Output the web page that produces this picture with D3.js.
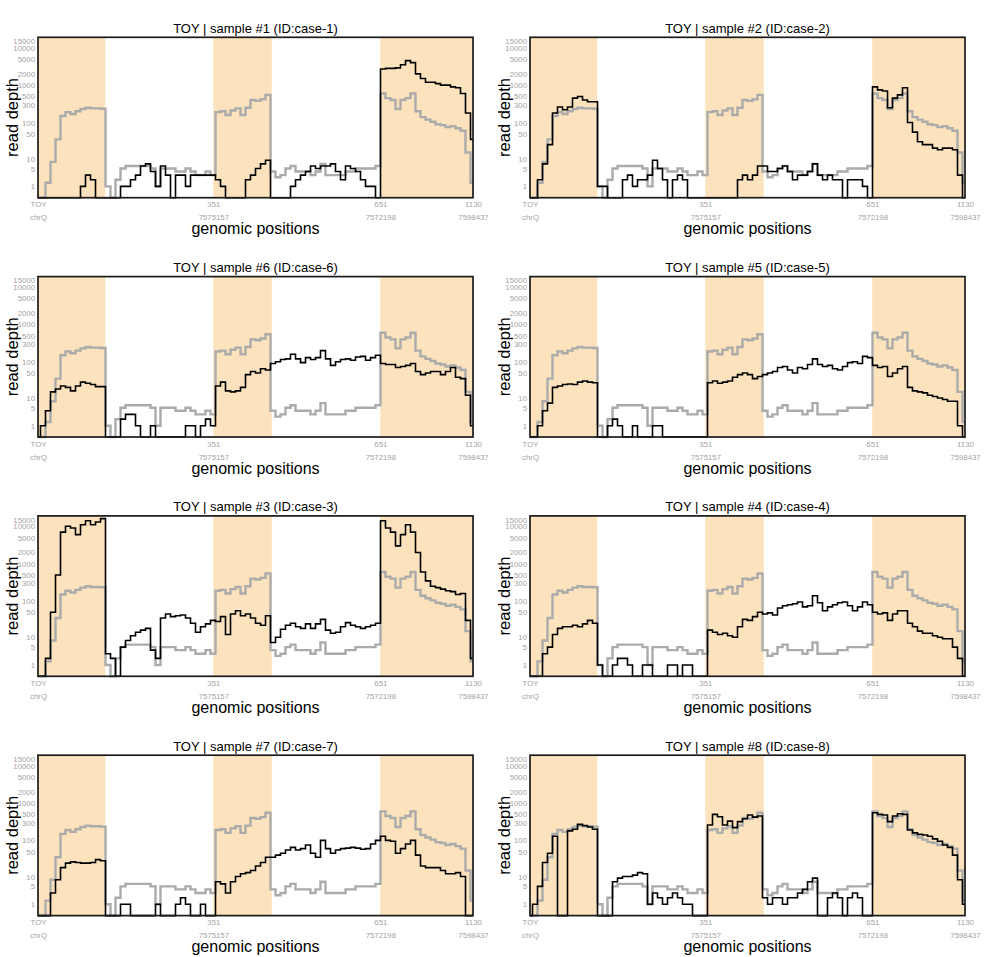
<!DOCTYPE html>
<html><head><meta charset="utf-8">
<script src="https://cdn.jsdelivr.net/npm/d3@7"></script>
<style>body{margin:0;background:#fff}svg{display:block}</style>
</head><body><svg id="chart" width="984" height="957"></svg>
<script>
// reference depth profile (grey), 88 bins across the concatenated regions
const refDepth = [0,0,1.5,8,35,150,190,170,200,230,250,240,240,235,
  1,0,2,5,6,6,6,6,6,5,1,5,5,5,4,4,5,4,3,3,4,3,
  190,200,160,210,240,160,250,400,380,420,550,
  4,2.5,3,5,6,4,4,4,3,4,7,3,3,3,3,4,4,5,5,5,5,6,
  600,450,400,230,400,450,600,200,140,120,105,90,85,75,80,70,60,15,1.5];

const case1 = [0,0,0,0,0,0,0,0,0,1,3,2,0,0,
  0,0,0,1,1,2,3,6,7,4,1,6,3,0,3,3,1,3,3,3,3,3,
  2,1,0,0,0,0,2,3,5,7,9,
  0,0,0,0,1,2,3,4,6,5,6,6,7,4,2,6,5,4,2,1,1,0,
  2700,2800,2800,2900,3500,4500,4000,2000,1500,1200,1200,1100,1000,1000,900,850,600,180,35];

const case2 = [0,0,2,7,25,180,260,220,260,450,500,400,360,360,
  1,1,0,0,0,2,3,1,2,2,3,9,5,2,0,2,3,2,0,0,0,0,
  0,0,0,0,0,0,2,3,2,3,6,
  6,4,4,5,6,4,2,3,3,4,7,3,2,3,2,2,0,2,2,2,1,0,
  900,750,700,250,450,550,850,100,55,30,25,25,20,18,20,20,18,3,0];

const case6 = [0,1,4,15,18,22,20,16,22,28,26,24,21,21,
  0,0,0,2,3,3,1,0,0,1,0,0,0,0,0,0,1,1,0,1,2,1,
  22,28,16,15,16,20,45,55,50,65,60,
  90,100,115,120,160,120,95,130,115,130,200,120,80,100,115,120,110,135,140,110,130,150,
  90,85,85,70,75,80,90,55,45,50,55,55,45,55,70,38,35,12,1];

const case5 = [0,0,1,4,7,20,22,24,25,24,28,30,28,27,
  0,0,1,2,1,0,0,1,0,0,0,1,1,0,0,0,0,0,0,0,0,0,
  27,30,26,28,30,38,45,50,45,35,40,
  45,50,55,70,75,60,50,70,65,85,120,85,75,80,65,60,75,95,100,90,140,130,
  80,70,75,40,50,65,75,20,16,15,14,12,11,10,9,8,8,1,0];

const case3 = [0,0,2,50,500,7000,10000,9000,6000,11000,14000,11000,13000,16000,
  3,2,0,5,8,11,14,16,18,4,2,35,45,38,40,42,35,25,14,20,24,30,
  28,38,12,45,55,40,45,35,25,22,40,
  7,10,17,22,25,20,18,24,18,24,32,16,13,14,20,26,22,20,18,20,22,25,
  14000,9000,7000,3000,6000,11000,7000,2000,600,350,250,230,210,190,180,150,160,30,2];

const case4 = [0,0,0,3,5,12,18,20,20,22,20,24,30,25,
  1,0,0,1,2,2,1,0,0,1,1,0,0,0,1,1,0,1,1,0,0,0,
  16,14,12,13,11,10,20,32,30,38,50,
  45,48,42,65,75,80,85,95,70,75,140,90,55,70,80,90,95,75,55,70,95,80,
  50,45,48,30,45,55,55,25,20,15,13,13,11,10,9,9,5,2,0];

const case7 = [0,0,0,3,8,18,24,26,25,24,24,25,30,28,
  0,0,0,1,1,0,0,0,0,0,1,0,0,0,1,2,1,0,0,1,0,0,
  7,6,3,7,10,12,13,15,20,25,35,
  35,40,45,55,65,55,60,75,45,35,100,60,45,55,60,62,65,62,58,60,80,100,
  130,100,95,45,60,80,100,40,20,18,18,18,15,12,12,13,10,0,0];

const case8 = [0,1,5,25,45,130,0,0,180,200,270,250,230,200,
  0,0,0,7,9,10,10,11,13,12,1,3,2,1,2,3,2,1,1,0,0,0,
  260,500,430,260,330,220,320,380,480,420,450,
  2,1,2,2,1,2,2,3,4,7,9,0,0,2,3,2,0,2,3,2,0,0,
  550,500,480,320,450,520,500,190,160,145,140,130,110,95,75,65,40,8,1];

const sampleTitles = ["TOY | sample #1 (ID:case-1)","TOY | sample #2 (ID:case-2)",
  "TOY | sample #6 (ID:case-6)","TOY | sample #5 (ID:case-5)",
  "TOY | sample #3 (ID:case-3)","TOY | sample #4 (ID:case-4)",
  "TOY | sample #7 (ID:case-7)","TOY | sample #8 (ID:case-8)"];
const sampleSeries = [case1, case2, case6, case5, case3, case4, case7, case8];

const yTicks = [1,5,10,50,100,300,500,1000,2000,5000,10000,15000];
const xTickPos = [0, 35.06, 68.46, 87];
const xTickTop = ["TOY","351","651","1130"];
const xTickBottom = ["chrQ","7575157","7572198","7598437"];
const exons = [[0,13.46],[35.06,46.74],[68.46,87]];
const yMax = 18900;
const nBins = 87;

// layout
const W = 435, H = 160.4;
const colX = [38, 530];
const rowY0 = 37.3, rowStep = 239.3;
const font = "'Liberation Sans', Arial, Helvetica, sans-serif";

const x = d3.scaleLinear().domain([0, nBins]).range([0, W]);
const y = d3.scaleSymlog().constant(1).domain([0, yMax]).range([H, 0]);
const line = d3.line().x((d, i) => x(i)).y(d => y(d)).curve(d3.curveStep);

const svg = d3.select("#chart");

sampleSeries.forEach((series, k) => {
  const g = svg.append("g")
    .attr("transform", `translate(${colX[k % 2]},${rowY0 + Math.floor(k / 2) * rowStep})`);

  g.selectAll("rect.exon").data(exons).join("rect").attr("class", "exon")
    .attr("x", d => x(d[0])).attr("width", d => x(d[1]) - x(d[0]))
    .attr("y", 0).attr("height", H).attr("fill", "#fce3bd");

  g.append("path").datum(refDepth).attr("d", line)
    .attr("fill", "none").attr("stroke", "#ababab").attr("stroke-width", 2.4);
  g.append("path").datum(series).attr("d", line)
    .attr("fill", "none").attr("stroke", "#000").attr("stroke-width", 1.6);

  g.append("rect").attr("x", 0).attr("y", 0).attr("width", W).attr("height", H)
    .attr("fill", "none").attr("stroke", "#1a1a1a").attr("stroke-width", 1.7);

  // y axis
  const ya = g.append("g").call(d3.axisLeft(y).tickValues(yTicks).tickSize(0).tickPadding(3)
    .tickFormat(d3.format("d")));
  ya.select(".domain").remove();
  ya.selectAll("text").attr("fill", "#a3a3a3").style("font-family", font).style("font-size", "7.8px");

  // x axis (two-line labels)
  const xa = g.append("g").attr("transform", `translate(0,${H})`)
    .call(d3.axisBottom(x).tickValues(xTickPos).tickSize(0).tickFormat((d, i) => xTickTop[i]));
  xa.select(".domain").remove();
  xa.selectAll(".tick text").each(function (d, i) {
    const t = d3.select(this);
    t.text(null).attr("y", 9.8).attr("dy", null)
      .attr("fill", "#a3a3a3").style("font-family", font).style("font-size", "7.8px");
    t.append("tspan").attr("x", 0).text(xTickTop[i]);
    t.append("tspan").attr("x", 0).attr("dy", 12.7).text(xTickBottom[i]);
  });

  g.append("text").attr("x", W / 2).attr("y", -4.5).attr("text-anchor", "middle")
    .style("font-family", font).style("font-size", "13px").attr("fill", "#000")
    .text(sampleTitles[k]);

  g.append("text").attr("x", W / 2).attr("y", H + 36.8).attr("text-anchor", "middle")
    .style("font-family", font).style("font-size", "16px").attr("fill", "#000")
    .text("genomic positions");

  g.append("text").attr("transform", "rotate(-90)")
    .attr("x", -H / 2).attr("y", -20).attr("text-anchor", "middle")
    .style("font-family", font).style("font-size", "16.5px").attr("fill", "#000")
    .text("read depth");
});
</script></body></html>
